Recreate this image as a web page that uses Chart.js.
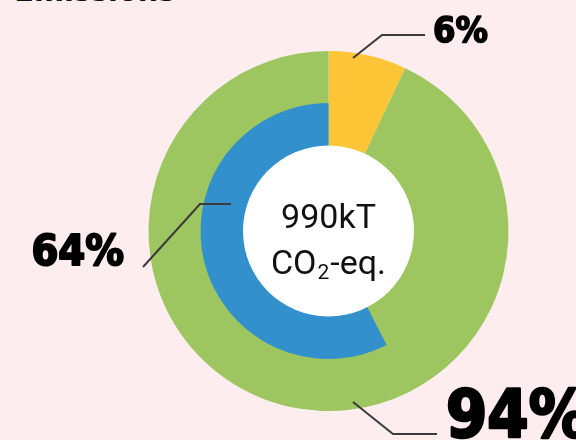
<!DOCTYPE html>
<html>
<head>
<meta charset="utf-8">
<script src="https://cdn.jsdelivr.net/npm/chart.js@4/dist/chart.umd.min.js"></script>
<style>
html, body { margin: 0; padding: 0; background: #fdedee; }
#wrap { position: relative; width: 576px; height: 440px; overflow: hidden; }
#wrap canvas { position: absolute; left: 0; top: 0; }
#title { position: absolute; left: -10px; top: -29px; font: bold 32px 'DejaVu Sans Condensed', 'DejaVu Sans'; color: #111; white-space: nowrap; }
</style>
</head>
<body>
<div id="wrap">
  <div id="title">r Emissions</div>
  <canvas id="outer" width="576" height="440"></canvas>
  <canvas id="inner" width="576" height="440"></canvas>
</div>
<script>
// outer ring: share of total emissions
const outerLabels = ["Other", "Main"];
const outerValues = [7, 93];
const outerColors = ["#fec637", "#9dc660"];

// inner ring: sub share, drawn counter-clockwise from the top
const innerLabels = ["", "Sub"];
const innerValues = [42.5, 57.5];
const innerColors = ["rgba(0,0,0,0)", "#3290cd"];

const pctLabels = ["6%", "94%", "64%"];
const centerLine1 = "990kT";

const OUTER_R = 180, MID_R = 128, HOLE_R = 85;
const pad = { left: 148.5, right: 67.5, top: 51, bottom: 29 };
const labelFont = "'DejaVu Sans Condensed', 'DejaVu Sans', sans-serif";
const centerFont = "Roboto, 'DejaVu Sans', sans-serif";

function ringOptions(r) {
  return {
    responsive: false,
    animation: false,
    radius: r,
    cutout: (HOLE_R / r * 100) + "%",
    layout: { padding: pad },
    plugins: { legend: { display: false }, tooltip: { enabled: false } },
    events: []
  };
}

new Chart(document.getElementById("outer"), {
  type: "doughnut",
  data: {
    labels: outerLabels,
    datasets: [{ data: outerValues, backgroundColor: outerColors, borderWidth: 0, hoverBorderWidth: 0, hoverOffset: 0 }]
  },
  options: ringOptions(OUTER_R)
});

function line(ctx, pts) {
  ctx.beginPath();
  ctx.moveTo(pts[0][0], pts[0][1]);
  for (let i = 1; i < pts.length; i++) ctx.lineTo(pts[i][0], pts[i][1]);
  ctx.stroke();
}

// heavy label: fill plus a stroke to fatten the glyphs
function heavy(ctx, txt, x, y, size, w) {
  ctx.font = "bold " + size + "px " + labelFont;
  ctx.lineWidth = w;
  ctx.lineJoin = "round";
  ctx.strokeStyle = "#000";
  ctx.strokeText(txt, x, y);
  ctx.fillText(txt, x, y);
}

const overlay = {
  id: "overlay",
  afterDatasetsDraw(chart) {
    const ctx = chart.ctx;
    const arc = chart.getDatasetMeta(0).data[0];
    const cx = arc.x, cy = arc.y;
    ctx.save();

    // white centre disc
    ctx.fillStyle = "#ffffff";
    ctx.beginPath();
    ctx.arc(cx, cy, HOLE_R + 0.5, 0, Math.PI * 2);
    ctx.fill();

    // centre text
    ctx.fillStyle = "#111";
    ctx.textBaseline = "alphabetic";
    ctx.textAlign = "center";
    ctx.font = "34px " + centerFont;
    ctx.fillText(centerLine1, cx, cy - 3);

    ctx.textAlign = "left";
    const big = "34px " + centerFont, small = "21px " + centerFont;
    ctx.font = big;
    const wCO = ctx.measureText("CO").width, wEq = ctx.measureText("-eq.").width;
    ctx.font = small;
    const w2 = ctx.measureText("2").width;
    let x = cx - (wCO + w2 + wEq + 2) / 2;
    const by = cy + 43;
    ctx.font = big; ctx.fillText("CO", x, by); x += wCO + 1;
    ctx.font = small; ctx.fillText("2", x, by + 5); x += w2 + 1;
    ctx.font = big; ctx.fillText("-eq.", x, by);

    // leader lines
    ctx.strokeStyle = "#3a3a3a";
    ctx.lineWidth = 2;
    line(ctx, [[cx + 24.5, cy - 173], [cx + 53.5, cy - 196], [cx + 96.5, cy - 196]]);
    line(ctx, [[cx - 185.5, cy + 36], [cx - 128.5, cy - 27], [cx - 97.5, cy - 27]]);
    line(ctx, [[cx + 24.5, cy + 171], [cx + 64.5, cy + 203], [cx + 108.5, cy + 203]]);

    // percentage labels
    ctx.fillStyle = "#000";
    ctx.textAlign = "left";
    heavy(ctx, pctLabels[0], cx + 104.5, cy - 189, 36, 1.6);
    heavy(ctx, pctLabels[1], cx + 117.5, cy + 206, 66, 2.6);
    ctx.textAlign = "right";
    heavy(ctx, pctLabels[2], cx - 204.5, cy + 34, 43, 2);
    ctx.restore();
  }
};

new Chart(document.getElementById("inner"), {
  type: "doughnut",
  data: {
    labels: innerLabels,
    datasets: [{ data: innerValues, backgroundColor: innerColors, borderWidth: 0, hoverBorderWidth: 0, hoverOffset: 0 }]
  },
  options: ringOptions(MID_R),
  plugins: [overlay]
});
</script>
</body>
</html>
